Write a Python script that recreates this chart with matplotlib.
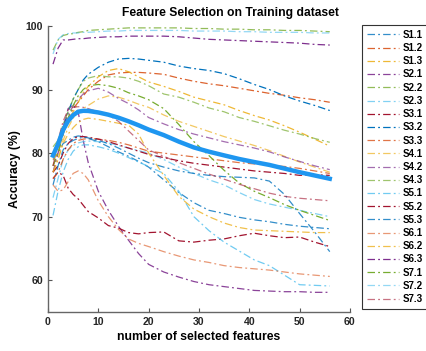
import matplotlib
matplotlib.use('Agg')
import matplotlib.pyplot as plt
import numpy as np

plt.rcParams['font.family'] = ['Liberation Sans', 'DejaVu Sans']
plt.rcParams['font.weight'] = 'bold'

# number of selected features (sampled positions)
n_feat = [1, 2, 3, 4, 5, 6, 7, 8, 10, 12, 14, 16, 18, 20, 23, 26, 29, 32, 35, 38, 41, 44, 47, 50, 53, 56]

# accuracy (%) per subject/session
s1_1 = [79, 80, 81.5, 82, 82.5, 82.7, 82.6, 82.3, 81.8, 81, 80.2, 79.5, 78.7, 77.8, 75.8, 73.8, 72.2, 71.0, 70.5, 69.9, 69.5, 69.2, 68.8, 68.5, 68.3, 68.1]
s1_2 = [78, 80, 83, 85.5, 87, 88, 89, 90, 91.3, 92.3, 92.6, 92.7, 92.7, 92.6, 92.4, 91.8, 91.3, 90.9, 90.6, 90.2, 89.8, 89.4, 89.1, 88.7, 88.4, 88.0]
s1_3 = [79, 80, 83, 85, 86.5, 88, 89.5, 90.5, 92.0, 93.0, 93.3, 92.8, 92.0, 91.2, 90.5, 89.7, 88.8, 88.2, 87.6, 86.7, 85.9, 85.2, 84.3, 83.3, 82.2, 81.1]
s2_1 = [77, 80, 84, 87, 87.6, 86.5, 82, 78.5, 74, 71, 68.5, 66.3, 64.2, 62.5, 61.3, 60.5, 59.8, 59.3, 59.0, 58.7, 58.4, 58.3, 58.2, 58.2, 58.1, 58.1]
s2_2 = [96.2, 97.8, 98.5, 98.7, 98.8, 99.0, 99.1, 99.3, 99.4, 99.5, 99.6, 99.7, 99.7, 99.7, 99.7, 99.7, 99.6, 99.6, 99.5, 99.5, 99.4, 99.4, 99.3, 99.3, 99.2, 99.1]
s2_3 = [73, 76, 79, 80.5, 81.2, 81.6, 81.8, 81.9, 81.8, 81.6, 81.2, 80.8, 80.4, 80.0, 79.0, 77.8, 76.8, 75.8, 75.0, 73.8, 72.7, 72.0, 71.5, 71.0, 70.5, 70.0]
s3_1 = [76, 77, 76.5, 74.5, 73.5, 72.8, 71.8, 70.8, 69.8, 68.6, 68.2, 67.5, 67.3, 67.5, 67.6, 66.2, 66.0, 66.3, 66.5, 67.0, 67.4, 67.0, 66.7, 66.8, 66.0, 65.3]
s3_2 = [80, 81, 84, 86.5, 88.5, 90.0, 91.5, 92.4, 93.5, 94.3, 94.8, 94.9, 94.8, 94.6, 94.3, 93.7, 93.3, 93.0, 92.5, 91.7, 90.8, 90.0, 89.0, 88.2, 87.5, 86.7]
s3_3 = [76, 77, 79, 80.5, 81.5, 82, 82.2, 82.3, 82.2, 82, 81.7, 81.3, 80.8, 80.3, 80, 79.7, 79.4, 79.1, 78.8, 78.5, 78.3, 78.1, 77.9, 77.6, 77.2, 76.8]
s4_1 = [77, 79, 82, 84, 85.5, 86.5, 87, 87.5, 88.5, 89, 88.8, 88.3, 87.7, 87.2, 86, 85, 84.2, 83.4, 82.6, 81.9, 81.2, 80.4, 79.5, 78.6, 77.8, 77.0]
s4_2 = [80, 81, 84, 86, 87.5, 88.5, 89.3, 89.8, 90.2, 89.6, 88.6, 87.8, 86.8, 85.6, 84.6, 83.7, 83.0, 82.4, 81.8, 81.3, 80.8, 80.2, 79.4, 78.7, 78.0, 77.4]
s4_3 = [81, 82, 84.5, 86.5, 88.5, 90, 91.3, 91.8, 92.2, 92.0, 92.0, 91.8, 91.3, 90.6, 89.3, 88.8, 88.0, 87.1, 86.5, 85.6, 85.0, 84.3, 83.6, 83.0, 82.3, 81.7]
s5_1 = [70.2, 74, 77, 79, 80.3, 81, 81.3, 81.3, 81, 80.6, 80, 79.3, 78.6, 77.9, 76.8, 74.0, 70.0, 67.8, 66.0, 64.6, 63.2, 62.3, 60.8, 59.3, 59.2, 59.1]
s5_2 = [77, 78, 80, 81.5, 82.3, 82.6, 82.6, 82.5, 82.2, 81.8, 81.3, 80.8, 80.3, 79.8, 79.3, 78.8, 78.4, 78.1, 77.8, 77.5, 77.2, 77.0, 76.8, 76.5, 76.6, 76.5]
s5_3 = [75, 78, 80.5, 81.5, 82, 82.3, 82.5, 82.4, 82.0, 81.5, 80.8, 80.0, 79.2, 78.5, 77.8, 77.2, 76.8, 76.5, 76.3, 76.2, 76.1, 75.6, 73.5, 70.5, 67.6, 64.5]
s6_1 = [75, 74.0, 74.2, 75.5, 76.8, 77.2, 76.8, 75.8, 72.5, 70.0, 68.0, 66.5, 65.8, 65.3, 64.5, 63.8, 63.2, 62.8, 62.3, 62.0, 61.8, 61.6, 61.3, 61.0, 60.8, 60.6]
s6_2 = [77, 79, 81.5, 83, 84, 84.8, 85.3, 85.5, 85.3, 85, 84.7, 84.4, 83, 80, 76.5, 73.2, 71.2, 70.0, 69.0, 68.3, 67.9, 67.8, 67.7, 67.6, 67.5, 67.5]
s6_3 = [94.0, 96.5, 97.8, 97.8, 97.9, 98.0, 98.0, 98.1, 98.2, 98.3, 98.3, 98.4, 98.4, 98.4, 98.4, 98.3, 98.1, 97.9, 97.8, 97.7, 97.6, 97.5, 97.4, 97.3, 97.1, 97.0]
s7_1 = [78, 80, 83, 85.5, 87.5, 89, 90, 90.6, 90.8, 90.6, 90.2, 89.5, 89.0, 88.4, 87.0, 84.5, 81.8, 79.6, 77.3, 75.3, 74.0, 73.0, 71.9, 71.0, 70.2, 69.4]
s7_2 = [95.6, 97.9, 98.6, 98.8, 98.9, 98.9, 99.0, 99.0, 99.1, 99.2, 99.2, 99.3, 99.3, 99.3, 99.3, 99.3, 99.2, 99.2, 99.2, 99.1, 99.1, 99.0, 99.0, 99.0, 98.9, 98.9]
s7_3 = [78, 82, 85, 86.8, 87.2, 87.3, 87.2, 87.0, 86.5, 86, 85, 83.5, 82, 80.5, 79.5, 78.5, 77.6, 76.7, 75.9, 75.1, 74.4, 73.7, 73.2, 72.9, 72.7, 72.5]

labels = ['S1.1', 'S1.2', 'S1.3', 'S2.1', 'S2.2', 'S2.3', 'S3.1', 'S3.2', 'S3.3',
          'S4.1', 'S4.2', 'S4.3', 'S5.1', 'S5.2', 'S5.3', 'S6.1', 'S6.2', 'S6.3',
          'S7.1', 'S7.2', 'S7.3']
series = [s1_1, s1_2, s1_3, s2_1, s2_2, s2_3, s3_1, s3_2, s3_3,
          s4_1, s4_2, s4_3, s5_1, s5_2, s5_3, s6_1, s6_2, s6_3,
          s7_1, s7_2, s7_3]

# matlab default colour order
cols = ['#0072BD', '#D95319', '#EDB120', '#7E2F8E', '#77AC30', '#4DBEEE', '#A2142F']
alphas = [0.8, 0.9, 0.9, 0.9, 0.8, 0.7, 1, 1, 0.8, 0.7, 0.7, 0.7, 0.8, 1, 0.8, 0.6, 0.8, 1, 1, 0.6, 0.6]

fig = plt.figure(figsize=(4.27, 3.51), dpi=100)
ax = fig.add_axes([0.1124, 0.111, 0.707, 0.815])

for i, (lab, s) in enumerate(zip(labels, series)):
    ax.plot(n_feat, s, color=cols[i % 7], alpha=alphas[i], lw=0.9,
            linestyle=(0, (6, 2.5, 1.5, 2.5)), label=lab)

# average over all sessions
ax.plot(n_feat, np.mean(np.array(series), axis=0), color='#1E96F0', lw=3.2)

ax.set_xlim(0, 60)
ax.set_ylim(55, 100)
ax.set_xticks([0, 10, 20, 30, 40, 50, 60])
ax.set_yticks([60, 70, 80, 90, 100])
ax.tick_params(direction='in', labelsize=7.6, length=3, color='#555555', labelcolor='#262626')
for sp in ['top', 'right']:
    ax.spines[sp].set_visible(False)
for sp in ['left', 'bottom']:
    ax.spines[sp].set_color('#666666')
    ax.spines[sp].set_linewidth(1.0)

ax.set_title('Feature Selection on Training dataset', fontsize=8.7, fontweight='bold',
             x=0.603, pad=7)
ax.set_xlabel('number of selected features', fontsize=8.8, fontweight='bold', labelpad=3)
ax.set_ylabel('Accuracy (%)', fontsize=8.8, fontweight='bold', labelpad=3)

leg = fig.legend(loc='upper left', bbox_to_anchor=(362 / 427, 1 - 25 / 351),
                 bbox_transform=fig.transFigure, fontsize=7, handlelength=3.3,
                 labelspacing=0.33, borderaxespad=0, fancybox=False, framealpha=1,
                 edgecolor='#333333', borderpad=0.5, handletextpad=0.4)
leg.get_frame().set_linewidth(0.8)

fig.savefig('out.png', dpi=100)
